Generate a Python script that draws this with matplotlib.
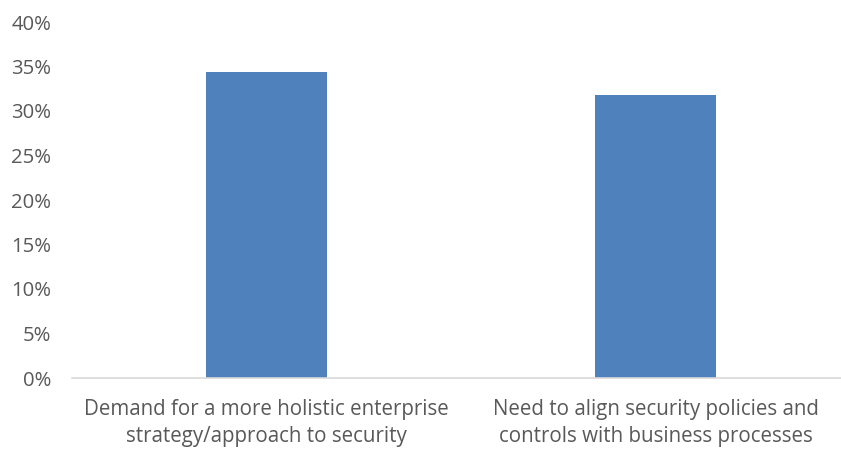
import matplotlib
matplotlib.use('Agg')
import matplotlib.pyplot as plt
from matplotlib.ticker import FuncFormatter

categories = ['Demand for a more holistic enterprise\nstrategy/approach to security',
              'Need to align security policies and\ncontrols with business processes']
values = [34.4, 31.8]
yticks = [0, 5, 10, 15, 20, 25, 30, 35, 40]

plt.rcParams['font.family'] = ['Open Sans', 'DejaVu Sans']

fig = plt.figure(figsize=(8.41, 4.49), dpi=100)
W, H = 841, 449
ax = fig.add_axes([72 / W, (H - 378) / H, (850 - 72) / W, (378 - 22) / H])

ax.bar(range(len(values)), values, width=0.31, color='#4f81bd', zorder=2)
ax.set_xlim(-0.5, 1.5)
ax.set_ylim(0, 40)
ax.set_yticks(yticks)
ax.yaxis.set_major_formatter(FuncFormatter(lambda v, p: '%d%%' % v))
ax.set_xticks(range(len(categories)))
ax.set_xticklabels(categories, fontsize=14.8, color='#595959', linespacing=1.38)
ax.tick_params(axis='y', labelsize=14.6, labelcolor='#595959', length=0, pad=15)
ax.tick_params(axis='x', length=0, pad=15)

for s in ['top', 'right', 'left']:
    ax.spines[s].set_visible(False)
ax.spines['bottom'].set_color('#d9d9d9')
ax.spines['bottom'].set_linewidth(1.2)

fig.savefig('out.png', dpi=100)
